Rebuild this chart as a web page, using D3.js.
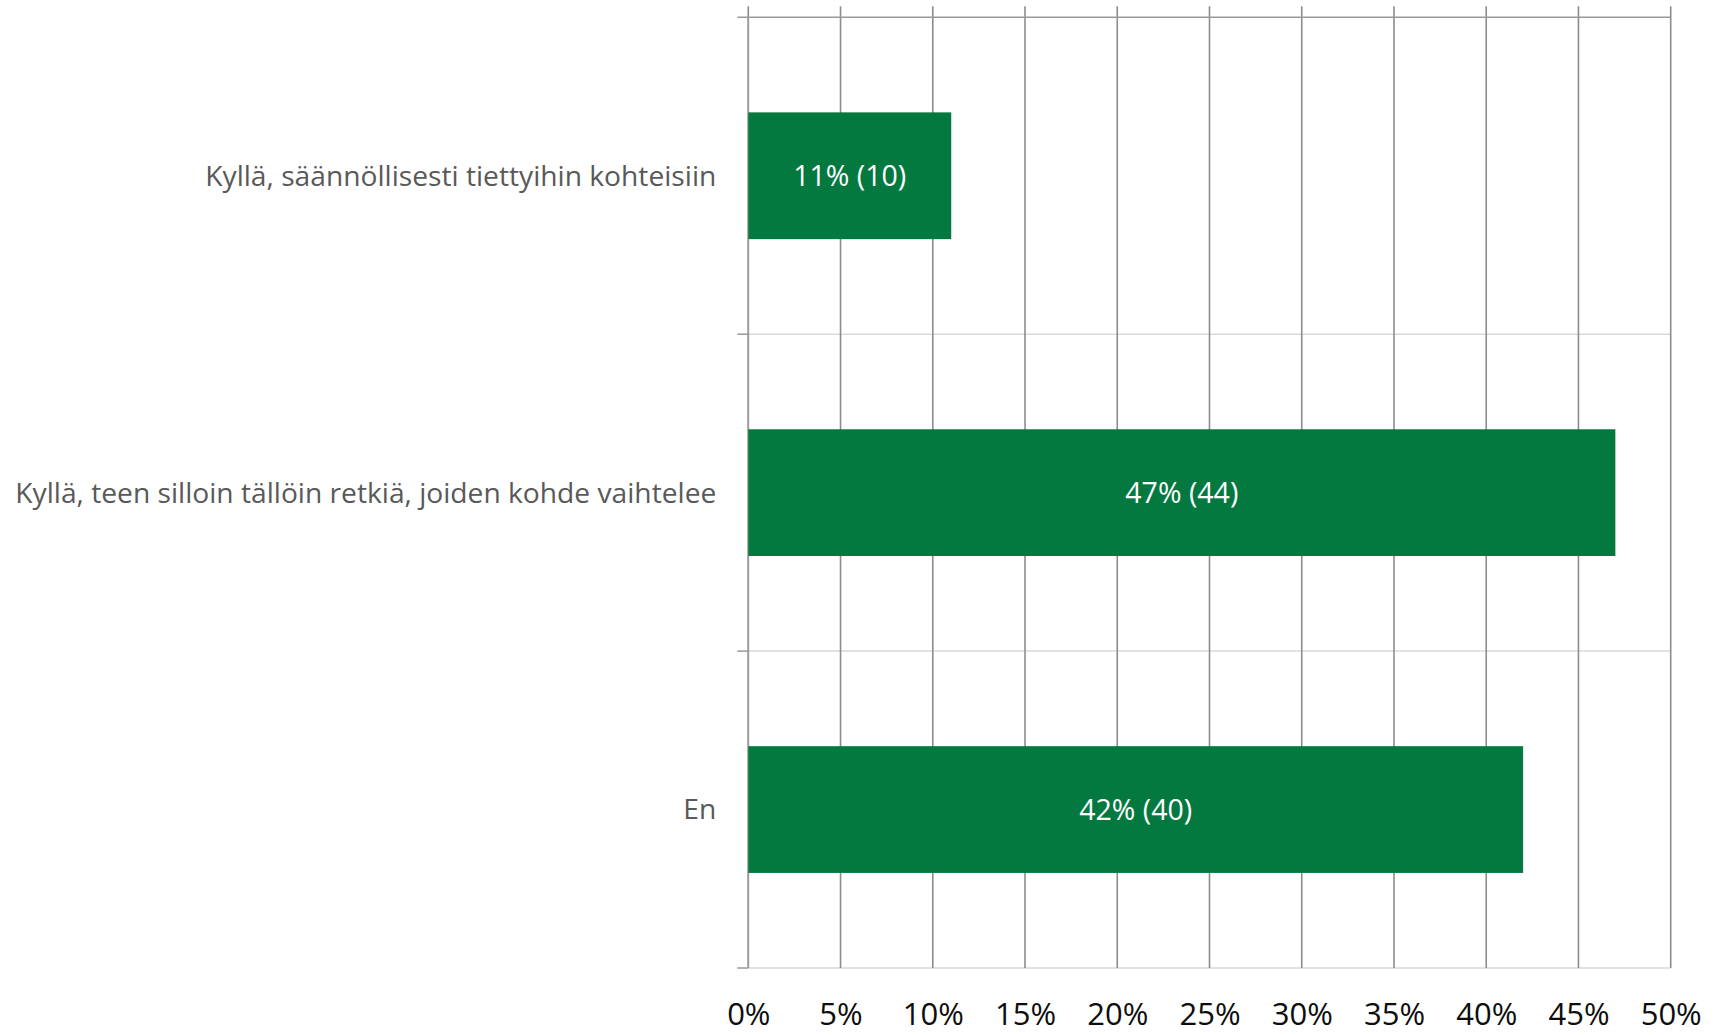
<!DOCTYPE html>
<html><head><meta charset="utf-8">
<script src="https://cdn.jsdelivr.net/npm/d3@7"></script>
<style>
html,body{margin:0;padding:0;background:#fff;}
svg{display:block;}
</style></head>
<body>
<svg id="chart" width="1719" height="1035"></svg>
<script>
const categories = [
  "Kyllä, säännöllisesti tiettyihin kohteisiin",
  "Kyllä, teen silloin tällöin retkiä, joiden kohde vaihtelee",
  "En"
];
const percentValues = [11, 47, 42];
const counts = [10, 44, 40];
const tickValues = [0, 5, 10, 15, 20, 25, 30, 35, 40, 45, 50];

(function () {
const W = 1719, H = 1035;
const margin = {top: 17.3, right: 48.3, bottom: 67, left: 748.3};
const svg = d3.select("#chart");
const FONT = "'Open Sans', 'Noto Sans', sans-serif";

const x = d3.scaleLinear().domain([0, 50]).range([margin.left, W - margin.right]);
const y = d3.scaleBand().domain(categories).range([margin.top, H - margin.bottom])
  .paddingInner(0.6).paddingOuter(0.3);
const yTop = margin.top, yBottom = H - margin.bottom;

const boundaries = categories.map(c => y(c) - y.step() * 0.3).concat([yBottom]);

// horizontal boundary gridlines
svg.append("g").selectAll("line").data(boundaries.slice(1)).join("line")
  .attr("x1", x(0)).attr("x2", x(50))
  .attr("y1", d => d).attr("y2", d => d)
  .attr("stroke", "#d9d9d9").attr("stroke-width", 1.5);

// vertical gridlines with small tick above the top
svg.append("g").selectAll("line").data(tickValues).join("line")
  .attr("x1", d => x(d)).attr("x2", d => x(d))
  .attr("y1", yTop - 11).attr("y2", yBottom)
  .attr("stroke", "#8c8c8c").attr("stroke-width", 1.6);

// top axis line
svg.append("line")
  .attr("x1", x(0) - 11).attr("x2", x(50))
  .attr("y1", yTop).attr("y2", yTop)
  .attr("stroke", "#9a9a9a").attr("stroke-width", 1.5);

// left category axis line and ticks
svg.append("line")
  .attr("x1", x(0)).attr("x2", x(0))
  .attr("y1", yTop).attr("y2", yBottom)
  .attr("stroke", "#999").attr("stroke-width", 1.5);
svg.append("g").selectAll("line").data(boundaries.slice(1)).join("line")
  .attr("x1", x(0) - 11).attr("x2", x(0))
  .attr("y1", d => d).attr("y2", d => d)
  .attr("stroke", "#999").attr("stroke-width", 1.5);

// bars
svg.append("g").selectAll("rect").data(categories).join("rect")
  .attr("x", x(0))
  .attr("y", d => y(d))
  .attr("width", (d, i) => x(percentValues[i]) - x(0))
  .attr("height", y.bandwidth())
  .attr("fill", "#03793f");

// bar labels
svg.append("g").selectAll("text").data(categories).join("text")
  .attr("x", (d, i) => (x(0) + x(percentValues[i])) / 2)
  .attr("y", d => y(d) + y.bandwidth() / 2)
  .attr("dy", "0.35em")
  .attr("text-anchor", "middle")
  .attr("fill", "#fff")
  .style("font-family", FONT).style("font-size", "28.5px")
  .text((d, i) => `${percentValues[i]}% (${counts[i]})`);

// category labels
svg.append("g").selectAll("text").data(categories).join("text")
  .attr("x", x(0) - 32)
  .attr("y", d => y(d) + y.bandwidth() / 2)
  .attr("dy", "0.35em")
  .attr("text-anchor", "end")
  .attr("fill", "#595959")
  .style("font-family", FONT).style("font-size", "28.2px")
  .text(d => d);

// bottom tick labels
const xAxis = d3.axisBottom(x).tickValues(tickValues).tickSize(0).tickPadding(0)
  .tickFormat(d => d + "%");
const gx = svg.append("g").attr("transform", `translate(0,${yBottom})`).call(xAxis);
gx.select(".domain").remove();
gx.selectAll("text")
  .attr("y", 57).attr("dy", 0)
  .attr("fill", "#0d0d0d")
  .style("font-family", FONT).style("font-size", "31px");
})();
</script>
</body></html>
